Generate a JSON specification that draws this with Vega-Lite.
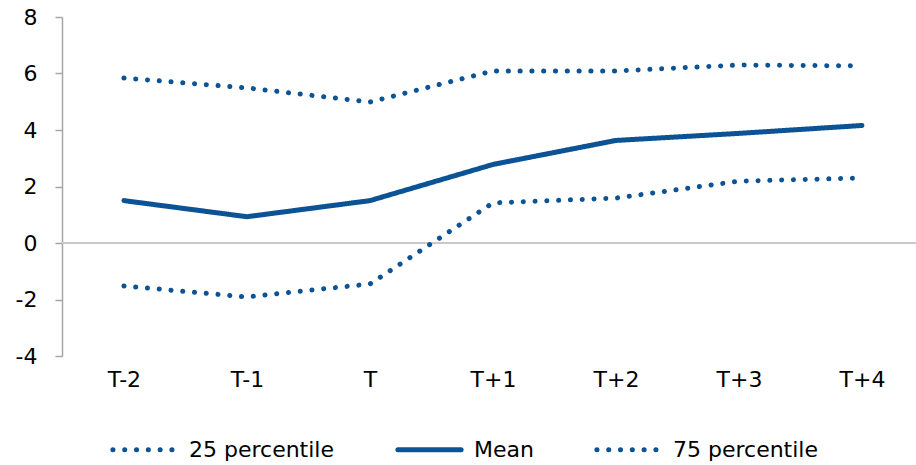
{
  "$schema": "https://vega.github.io/schema/vega-lite/v6.json",
  "width": 854,
  "height": 339,
  "autosize": {"type": "none"},
  "padding": {"left": 62, "top": 17, "right": 0, "bottom": 109},
  "config": {"view": {"stroke": null}, "font": "DejaVu Sans"},
  "data": {"values": [
    {"period": "T-2", "series": "25 percentile", "value": -1.52},
    {"period": "T-1", "series": "25 percentile", "value": -1.91},
    {"period": "T", "series": "25 percentile", "value": -1.45},
    {"period": "T+1", "series": "25 percentile", "value": 1.42},
    {"period": "T+2", "series": "25 percentile", "value": 1.59},
    {"period": "T+3", "series": "25 percentile", "value": 2.19},
    {"period": "T+4", "series": "25 percentile", "value": 2.30},
    {"period": "T-2", "series": "Mean", "value": 1.50},
    {"period": "T-1", "series": "Mean", "value": 0.93},
    {"period": "T", "series": "Mean", "value": 1.50},
    {"period": "T+1", "series": "Mean", "value": 2.78},
    {"period": "T+2", "series": "Mean", "value": 3.63},
    {"period": "T+3", "series": "Mean", "value": 3.88},
    {"period": "T+4", "series": "Mean", "value": 4.16},
    {"period": "T-2", "series": "75 percentile", "value": 5.84},
    {"period": "T-1", "series": "75 percentile", "value": 5.49},
    {"period": "T", "series": "75 percentile", "value": 4.99},
    {"period": "T+1", "series": "75 percentile", "value": 6.09},
    {"period": "T+2", "series": "75 percentile", "value": 6.09},
    {"period": "T+3", "series": "75 percentile", "value": 6.30},
    {"period": "T+4", "series": "75 percentile", "value": 6.27}
  ]},
  "layer": [
    {
      "mark": {"type": "rule", "color": "#C8C8C8", "strokeWidth": 1.5},
      "encoding": {"y": {"datum": 0, "type": "quantitative"}}
    },
    {
      "mark": {"type": "line", "strokeCap": "round", "strokeJoin": "round", "strokeWidth": 5},
      "encoding": {
        "x": {
          "field": "period", "type": "ordinal",
          "sort": ["T-2", "T-1", "T", "T+1", "T+2", "T+3", "T+4"],
          "scale": {"type": "point", "padding": 0.4715, "align": 0.534},
          "axis": {"domain": false, "ticks": false, "labelFontSize": 22, "labelPadding": 13, "labelAngle": 0, "title": null, "labelColor": "black"}
        },
        "y": {
          "field": "value", "type": "quantitative",
          "scale": {"domain": [-4, 8], "nice": false},
          "axis": {"values": [-4, -2, 0, 2, 4, 6, 8], "labelExpr": "datum.value + ''", "grid": false, "title": null, "domainColor": "#A6A6A6", "domainWidth": 1.5, "tickColor": "#A6A6A6", "tickWidth": 1.5, "tickSize": 7, "labelFontSize": 22, "labelPadding": 18, "labelColor": "black"}
        },
        "color": {
          "field": "series", "type": "nominal",
          "scale": {"domain": ["25 percentile", "Mean", "75 percentile"], "range": ["#0B5394", "#0B5394", "#0B5394"]},
          "legend": {
            "orient": "none", "legendX": 48, "legendY": 398, "direction": "horizontal", "title": null,
            "labelFontSize": 22, "labelColor": "black", "symbolType": "stroke", "symbolSize": 4000,
            "symbolStrokeWidth": 5,
            "labelOffset": 10, "columnPadding": 52,
            "encode": {"symbols": {"update": {"strokeCap": {"value": "round"}}}}
          }
        },
        "strokeDash": {
          "field": "series", "type": "nominal",
          "scale": {"domain": ["25 percentile", "Mean", "75 percentile"], "range": [[0.1, 11.7], [1, 0], [0.1, 11.7]]}
        }
      }
    }
  ]
}
